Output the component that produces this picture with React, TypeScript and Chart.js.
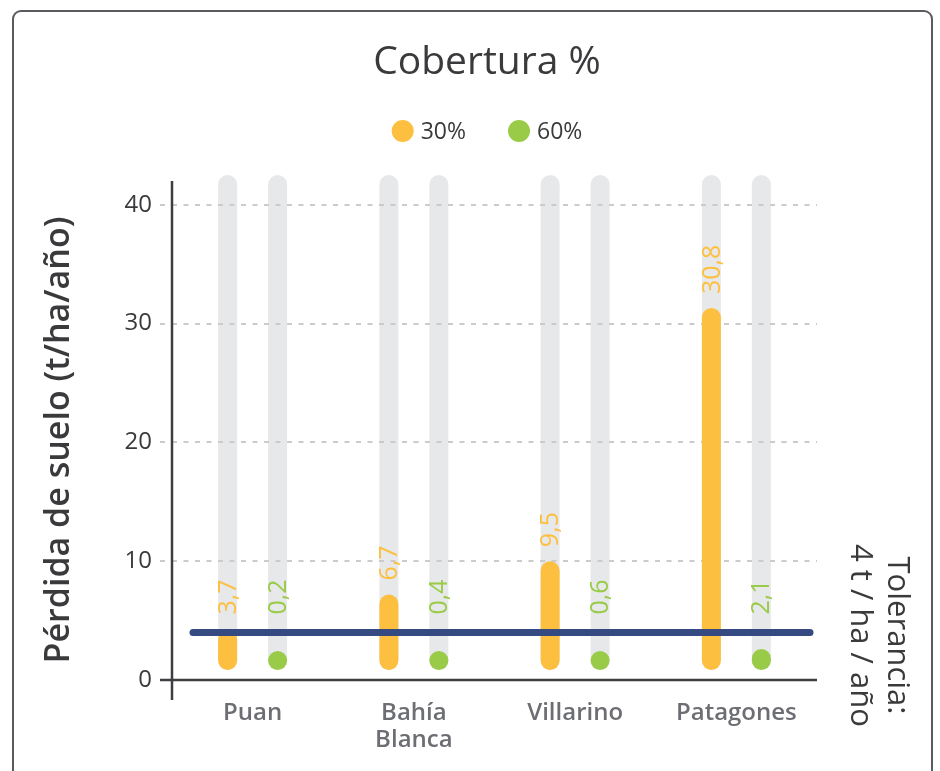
import React, { useEffect, useRef } from 'react';
import { Chart, registerables } from 'chart.js';

Chart.register(...registerables);

const FONT = '"Open Sans", "Noto Sans", sans-serif';

const CATEGORIES: (string | string[])[] = ['Puan', ['Bahía', 'Blanca'], 'Villarino', 'Patagones'];
const SERIES_LABELS = ['30%', '60%'];
const COVER_30 = [3.7, 6.7, 9.5, 30.8];
const COVER_60 = [0.2, 0.4, 0.6, 2.1];
const TOLERANCE = 4;
const Y_MIN = 0;
const Y_MAX = 42;
const Y_TICKS = [0, 10, 20, 30, 40];
const TITLE = 'Cobertura %';
const Y_TITLE = 'Pérdida de suelo (t/ha/año)';
const TOLERANCE_LINES = ['Tolerancia:', '4 t / ha / año'];

const SERIES_COLORS = ['#FDBF3F', '#9ACB48'];
const TRACK_COLOR = '#E7E8EA';
const TOL_COLOR = '#364A82';
const TEXT_DARK = '#3A3A3D';
const AXIS_COLOR = '#3D3D42';

function capsule(ctx: CanvasRenderingContext2D, x: number, w: number, top: number, bottom: number) {
  const r = w / 2;
  if (bottom - top < w) top = bottom - w;
  ctx.beginPath();
  ctx.moveTo(x - r, bottom - r);
  ctx.lineTo(x - r, top + r);
  ctx.arc(x, top + r, r, Math.PI, 0);
  ctx.lineTo(x + r, bottom - r);
  ctx.arc(x, bottom - r, r, 0, Math.PI);
  ctx.closePath();
  ctx.fill();
}

const fmt = (v: number) => String(v).replace('.', ',');

const customDraw = {
  id: 'customDraw',
  beforeDraw(chart: any) {
    const { ctx, chartArea } = chart;
    ctx.save();
    ctx.strokeStyle = '#5A5B5E';
    ctx.lineWidth = 2;
    ctx.beginPath();
    ctx.roundRect(13, 11, 919, 800, 8);
    ctx.stroke();
    ctx.fillStyle = TRACK_COLOR;
    chart.data.datasets.forEach((_: any, i: number) => {
      chart.getDatasetMeta(i).data.forEach((el: any) => {
        capsule(ctx, el.x, el.width, chartArea.top - 6, el.base - 9);
      });
    });
    ctx.restore();
  },
  beforeDatasetsDraw(chart: any) {
    const { ctx } = chart;
    ctx.save();
    chart.data.datasets.forEach((ds: any, i: number) => {
      ctx.fillStyle = ds.backgroundColor;
      chart.getDatasetMeta(i).data.forEach((el: any) => {
        capsule(ctx, el.x, el.width, el.y - 6, el.base - 9);
      });
    });
    ctx.restore();
  },
  beforeDatasetDraw() {
    return false;
  },
  afterDatasetsDraw(chart: any) {
    const { ctx, chartArea, scales } = chart;
    const yTol = scales.y.getPixelForValue(TOLERANCE);
    ctx.save();
    ctx.strokeStyle = TOL_COLOR;
    ctx.lineWidth = 7;
    ctx.lineCap = 'round';
    ctx.beginPath();
    ctx.moveTo(chartArea.left + 21, yTol);
    ctx.lineTo(chartArea.right - 7, yTol);
    ctx.stroke();
    ctx.font = `400 25px ${FONT}`;
    ctx.textAlign = 'left';
    ctx.textBaseline = 'middle';
    chart.data.datasets.forEach((ds: any, i: number) => {
      ctx.fillStyle = ds.backgroundColor;
      chart.getDatasetMeta(i).data.forEach((el: any, j: number) => {
        const top = Math.min(el.y - 6, el.base - 9 - el.width);
        const anchor = Math.min(top - 14, yTol - 18);
        ctx.save();
        ctx.translate(el.x + 1, anchor);
        ctx.rotate(-Math.PI / 2);
        ctx.fillText(fmt(ds.data[j]), 0, 0);
        ctx.restore();
      });
    });
    ctx.restore();
  },
  afterDraw(chart: any) {
    const { ctx, chartArea, scales } = chart;
    ctx.save();
    ctx.strokeStyle = AXIS_COLOR;
    ctx.lineWidth = 2.5;
    ctx.beginPath();
    ctx.moveTo(chartArea.left, chartArea.top);
    ctx.lineTo(chartArea.left, chartArea.bottom + 20);
    ctx.moveTo(chartArea.left - 12, chartArea.bottom);
    ctx.lineTo(chartArea.right, chartArea.bottom);
    ctx.stroke();

    // title
    const cx = 487;
    ctx.fillStyle = TEXT_DARK;
    ctx.font = `400 39px ${FONT}`;
    ctx.textAlign = 'center';
    ctx.textBaseline = 'alphabetic';
    ctx.fillText(TITLE, cx, 74);

    // y axis title
    ctx.save();
    ctx.font = `600 34px ${FONT}`;
    ctx.textAlign = 'center';
    ctx.textBaseline = 'alphabetic';
    ctx.translate(69, 440);
    ctx.rotate(-Math.PI / 2);
    ctx.fillText(Y_TITLE, 0, 0);
    ctx.restore();

    // legend
    ctx.font = `400 23px ${FONT}`;
    ctx.textAlign = 'left';
    ctx.textBaseline = 'middle';
    const r = 11, gapText = 7, gapItem = 42;
    const items = chart.data.datasets.map((ds: any) => ({
      label: ds.label,
      color: ds.backgroundColor,
      w: 2 * r + gapText + ctx.measureText(ds.label).width,
    }));
    const total = items.reduce((s: number, it: any) => s + it.w, 0) + gapItem * (items.length - 1);
    let x = cx - total / 2;
    const ly = 131;
    items.forEach((it: any) => {
      ctx.fillStyle = it.color;
      ctx.beginPath();
      ctx.arc(x + r, ly, r, 0, Math.PI * 2);
      ctx.fill();
      ctx.fillStyle = TEXT_DARK;
      ctx.fillText(it.label, x + 2 * r + gapText, ly + 1);
      x += it.w + gapItem;
    });

    // tolerance text
    const yTol = scales.y.getPixelForValue(TOLERANCE);
    ctx.font = `400 31px ${FONT}`;
    ctx.textAlign = 'center';
    ctx.textBaseline = 'middle';
    ctx.fillStyle = TEXT_DARK;
    TOLERANCE_LINES.forEach((line, i) => {
      ctx.save();
      ctx.translate(chartArea.right + 80 - i * 37, yTol + 3);
      ctx.rotate(Math.PI / 2);
      ctx.fillText(line, 0, 0);
      ctx.restore();
    });
    ctx.restore();
  },
};

export default function App() {
  const ref = useRef<HTMLCanvasElement | null>(null);
  useEffect(() => {
    if (!ref.current) return;
    const chart = new Chart(ref.current, {
      type: 'bar',
      data: {
        labels: CATEGORIES as any,
        datasets: [
          { label: SERIES_LABELS[0], data: COVER_30, backgroundColor: SERIES_COLORS[0] },
          { label: SERIES_LABELS[1], data: COVER_60, backgroundColor: SERIES_COLORS[1] },
        ],
      },
      options: {
        responsive: false,
        animation: false,
        layout: { padding: { left: 20, right: 123, top: 181, bottom: 0 } },
        datasets: { bar: { categoryPercentage: 0.62, barPercentage: 0.38 } } as any,
        plugins: {
          legend: { display: false },
          title: { display: false },
          tooltip: { enabled: false },
        },
        scales: {
          x: {
            grid: { display: false },
            border: { display: false },
            ticks: {
              color: '#6D6E73',
              font: { family: FONT, size: 24, weight: '600' as any, lineHeight: 1.12 },
              padding: 12,
              maxRotation: 0,
              autoSkip: false,
            },
            afterFit: (s: any) => {
              s.height = 91;
            },
          },
          y: {
            min: Y_MIN,
            max: Y_MAX,
            ticks: {
              color: TEXT_DARK,
              font: { family: FONT, size: 24, weight: '500' as any },
              padding: 8,
            },
            afterBuildTicks: (s: any) => {
              s.ticks = Y_TICKS.map((v) => ({ value: v }));
            },
            grid: {
              color: (c: any) => (c.tick && c.tick.value === 0 ? 'rgba(0,0,0,0)' : '#CBCBCB'),
              lineWidth: 2,
              tickLength: 12,
              tickColor: (c: any) => (c.tick && c.tick.value === 0 ? AXIS_COLOR : '#CBCBCB'),
              tickWidth: 2,
              tickBorderDash: [5, 6],
            } as any,
            border: { display: false, dash: [5, 6.5] },
            title: { display: false },
            afterFit: (s: any) => {
              s.width = 152;
            },
          },
        },
      },
      plugins: [customDraw],
    });
    return () => chart.destroy();
  }, []);
  return (
    <div style={{ position: 'absolute', top: 0, left: 0, width: 940, height: 771, background: '#fff' }}>
      <canvas ref={ref} width={940} height={771} style={{ display: 'block' }} />
    </div>
  );
}
